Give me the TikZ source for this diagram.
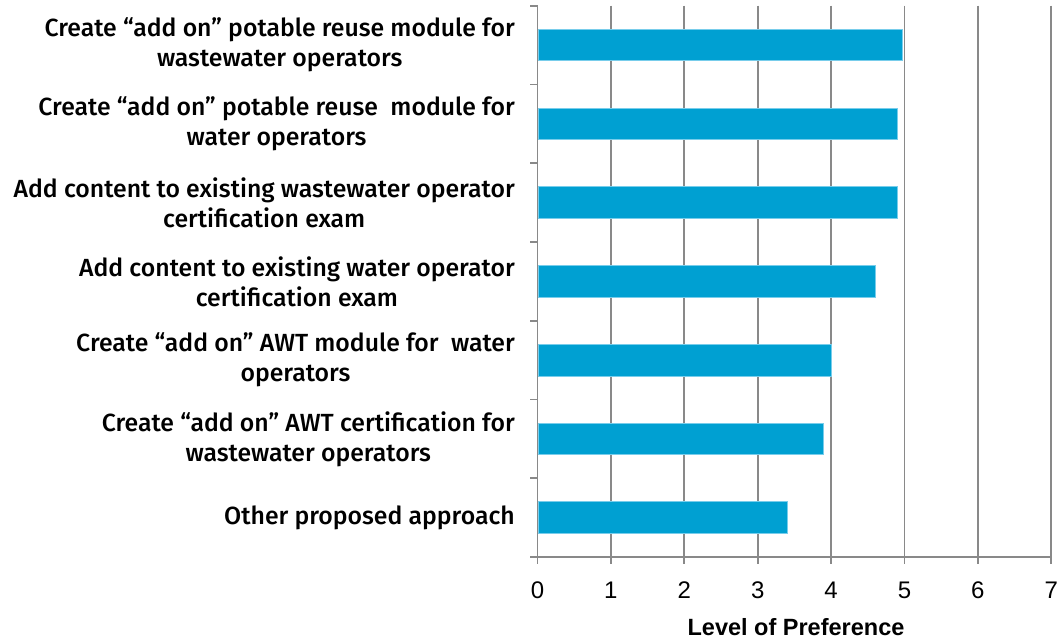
\documentclass[tikz,border=0pt]{standalone}
\usepackage{fontspec}
\setmainfont{Liberation Sans}
\newfontfamily\lblfont{Fira Sans Medium}
\definecolor{barblue}{RGB}{0,160,210}
\definecolor{baredge}{RGB}{120,205,235}
\definecolor{gridgray}{RGB}{137,137,137}
\begin{document}
\begin{tikzpicture}[x=1pt,y=-1pt,
  gridline/.style={gridgray,line width=1.8pt},
  bar/.style={fill=barblue,draw=baredge,line width=0.8pt},
  cat/.style={anchor=east,align=center,font=\lblfont\fontsize{24.8}{30}\selectfont,inner sep=0pt},
  ticklbl/.style={font=\fontsize{24}{24}\selectfont,anchor=center,inner sep=0pt},
  ]
\useasboundingbox (0,0) rectangle (1057,638);
% grid lines
\foreach \v in {1,...,7}
  \draw[gridline] ({537.5+73.4*\v},5.7) -- ({537.5+73.4*\v},564);
% bars
\foreach \val [count=\i] in {4.97,4.9,4.9,4.6,4.0,3.9,3.4}
  \draw[bar] (538.5,{5.7+78.76*(\i-0.5)-15.8}) rectangle ({537.5+73.4*\val},{5.7+78.76*(\i-0.5)+15.8});
% axes
\draw[gridline] (537.5,5.7) -- (537.5,564);
\draw[gridline] (530,557) -- (1051,557);
\foreach \i in {0,...,6}
  \draw[gridline] (530,{5.7+78.76*\i}) -- (537.5,{5.7+78.76*\i});
% tick labels
\foreach \v in {0,...,7}
  \node[ticklbl] (t\v) at ({537.5+73.4*\v},590) {\v};
\node[font=\bfseries\fontsize{23.5}{24}\selectfont,inner sep=0pt,anchor=base] (title) at (796,635) {Level of Preference};
% category labels
\node[cat] (c1) at (515,45.1) {Create “add on” potable reuse module for\\wastewater operators};
\node[cat] (c2) at (515,123.8) {Create “add on” potable reuse~ module for\\water operators};
\node[cat] (c3) at (515,202.6) {Add content to existing wastewater operator\\certification exam};
\node[cat] (c4) at (515,281.4) {Add content to existing water operator\\certification exam};
\node[cat] (c5) at (515,360.1) {Create “add on” AWT module for~ water\\operators};
\node[cat] (c6) at (515,438.9) {Create “add on” AWT certification for\\wastewater operators};
\node[cat] (c7) at (515,517.6) {Other proposed approach};
\end{tikzpicture}
\end{document}
